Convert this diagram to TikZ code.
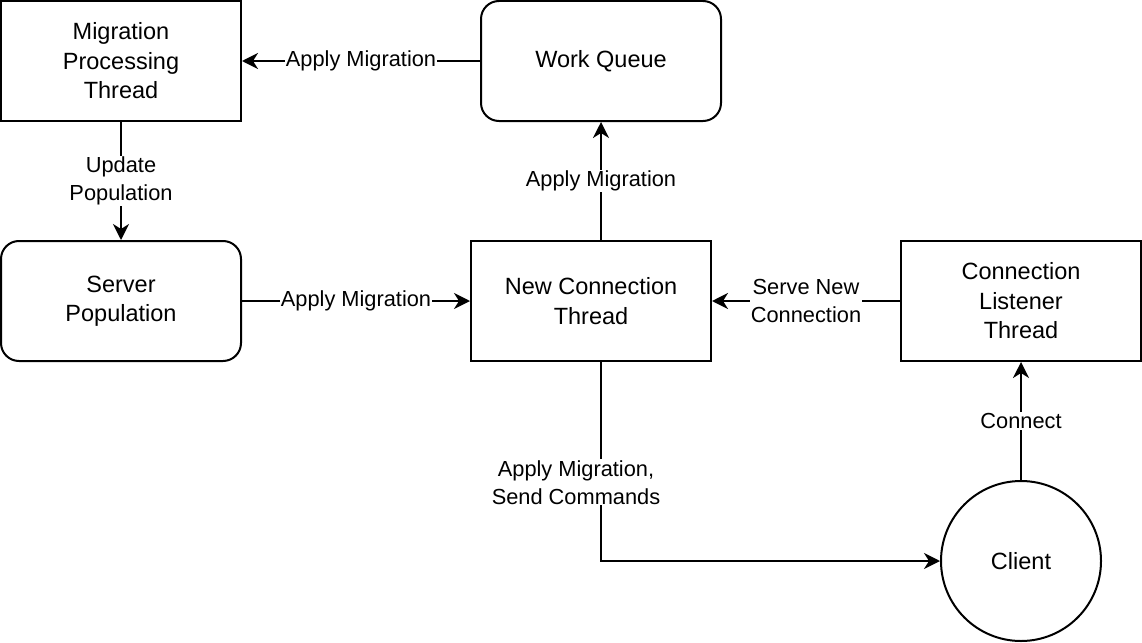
\documentclass[tikz,border=0pt]{standalone}
\usepackage{fontspec}
\setmainfont{Liberation Sans}
\usetikzlibrary{arrows.meta}
\begin{document}
\begin{tikzpicture}[x=1pt,y=-1pt,
 box/.style={draw,line width=2pt,minimum width=240pt,minimum height=120pt,inner sep=0pt,align=center,font=\fontsize{23.5}{29.5}\selectfont},
 rbox/.style={box,rounded corners=18pt},
 lab/.style={fill=white,inner sep=1pt,align=center,font=\fontsize{21.8}{28}\selectfont},
 arr/.style={line width=2pt,-{Stealth[length=16pt,width=16pt,inset=5pt]}}]
\useasboundingbox (0,0) rectangle (1142,642);
\node[box] (mpt) at (121,61) {Migration\\Processing\\Thread};
\node[rbox] (wq) at (601,61) {Work Queue};
\node[rbox] (sp) at (121,301) {Server\\Population};
\node[box] (nct) at (591,301) {New Connection\\Thread};
\node[box] (clt) at (1021,301) {Connection\\Listener\\Thread};
\node[draw,line width=2pt,circle,minimum size=160pt,inner sep=0pt,font=\fontsize{23.5}{29.5}\selectfont] (cl) at (1021,561) {Client};

\draw[arr] (wq.west) -- node[lab] {Apply Migration} (mpt.east);
\draw[arr] (mpt.south) -- node[lab] {Update\\Population} (sp.north);
\draw[arr] (sp.east) -- node[lab] {Apply Migration} (nct.west);
\draw[arr] (nct.north -| wq.south) -- node[lab] {Apply Migration} (wq.south);
\draw[arr] (clt.west) -- node[lab] {Serve New\\Connection} (nct.east);
\draw[arr] (cl.north) -- node[lab] {Connect} (clt.south);
\draw[arr] (nct.south -| wq.south) |- node[lab,pos=0.3025,xshift=-25pt] {Apply Migration,\\Send Commands} (cl.west);
\end{tikzpicture}
\end{document}
